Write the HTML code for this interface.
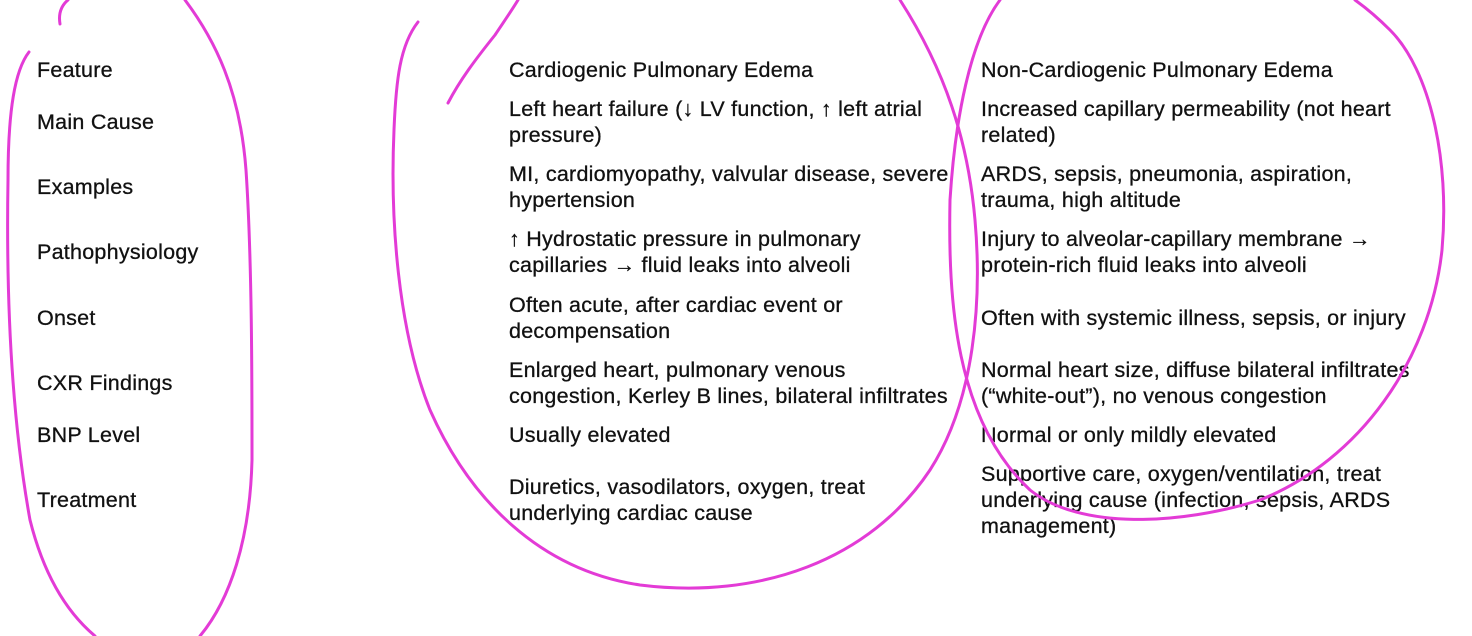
<!DOCTYPE html>
<html><head><meta charset="utf-8"><style>
body{margin:0;width:1472px;height:636px;background:#fff;position:relative;overflow:hidden;font-family:"Liberation Sans",Arial,sans-serif;font-size:21.5px;letter-spacing:0.25px;color:#111;-webkit-text-stroke:0.3px #111;}
.t{position:absolute;line-height:26px;white-space:nowrap;}
svg{position:absolute;left:0;top:0}
</style></head><body>
<div class="t" style="left:37px;top:57px">Feature</div>
<div class="t" style="left:37px;top:109px">Main Cause</div>
<div class="t" style="left:37px;top:174px">Examples</div>
<div class="t" style="left:37px;top:239px">Pathophysiology</div>
<div class="t" style="left:37px;top:305px">Onset</div>
<div class="t" style="left:37px;top:370px">CXR Findings</div>
<div class="t" style="left:37px;top:422px">BNP Level</div>
<div class="t" style="left:37px;top:487px">Treatment</div>

<div class="t" style="left:509px;top:57px">Cardiogenic Pulmonary Edema</div>
<div class="t" style="left:509px;top:96px">Left heart failure (↓ LV function, ↑ left atrial<br>pressure)</div>
<div class="t" style="left:509px;top:161px">MI, cardiomyopathy, valvular disease, severe<br>hypertension</div>
<div class="t" style="left:509px;top:226px">↑ Hydrostatic pressure in pulmonary<br>capillaries → fluid leaks into alveoli</div>
<div class="t" style="left:509px;top:292px">Often acute, after cardiac event or<br>decompensation</div>
<div class="t" style="left:509px;top:357px">Enlarged heart, pulmonary venous<br>congestion, Kerley B lines, bilateral infiltrates</div>
<div class="t" style="left:509px;top:422px">Usually elevated</div>
<div class="t" style="left:509px;top:474px">Diuretics, vasodilators, oxygen, treat<br>underlying cardiac cause</div>

<div class="t" style="left:981px;top:57px">Non-Cardiogenic Pulmonary Edema</div>
<div class="t" style="left:981px;top:96px">Increased capillary permeability (not heart<br>related)</div>
<div class="t" style="left:981px;top:161px">ARDS, sepsis, pneumonia, aspiration,<br>trauma, high altitude</div>
<div class="t" style="left:981px;top:226px">Injury to alveolar-capillary membrane →<br>protein-rich fluid leaks into alveoli</div>
<div class="t" style="left:981px;top:305px">Often with systemic illness, sepsis, or injury</div>
<div class="t" style="left:981px;top:357px">Normal heart size, diffuse bilateral infiltrates<br>(“white-out”), no venous congestion</div>
<div class="t" style="left:981px;top:422px">Normal or only mildly elevated</div>
<div class="t" style="left:981px;top:461px">Supportive care, oxygen/ventilation, treat<br>underlying cause (infection, sepsis, ARDS<br>management)</div>

<svg width="1472" height="636" fill="none" stroke="#e33bd6" stroke-width="3" stroke-linecap="round">
<path d="M60,24 C58,12 62,5 68,0"/>
<path d="M29,52 C15,70 8,110 8,180 C6,300 12,420 30,520 C45,580 70,615 95,636"/>
<path d="M185,0 C215,40 240,90 246,170 C252,260 252,380 252,460 C250,540 230,600 200,636"/>
<path d="M448,103 C460,80 475,60 495,35 C505,20 512,10 518,0"/>
<path d="M418,22 C400,45 396,80 394,130 C390,220 398,330 430,410 C470,500 540,570 640,585 C760,600 870,560 930,470 C975,400 982,300 975,220 C968,140 945,70 900,0"/>
<path d="M1000,0 C970,40 955,120 950,200 C948,300 955,420 1030,490 C1080,530 1180,525 1260,500 C1360,460 1430,360 1442,250 C1450,160 1430,70 1390,30 C1375,15 1362,5 1355,0"/>
</svg>
</body></html>
